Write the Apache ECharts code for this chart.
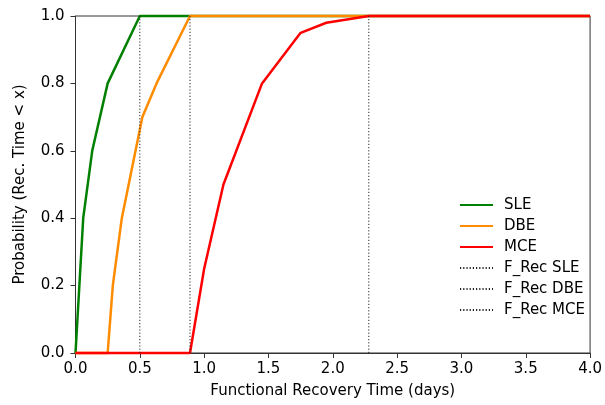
<!DOCTYPE html>
<html>
<head>
<meta charset="utf-8">
<script src="https://cdn.jsdelivr.net/npm/echarts@6/dist/echarts.min.js"></script>
<style>html,body{margin:0;padding:0;background:#fff}#c{width:605px;height:405px}</style>
</head>
<body>
<div id="c"></div>
<script>
// Data
const sleX = [0, 0.06, 0.13, 0.25, 0.5, 4.0];
const sleY = [0, 0.4, 0.6, 0.8, 1.0, 1.0];
const dbeX = [0, 0.25, 0.29, 0.36, 0.52, 0.63, 0.89, 4.0];
const dbeY = [0, 0, 0.2, 0.4, 0.7, 0.8, 1.0, 1.0];
const mceX = [0, 0.89, 1.0, 1.15, 1.45, 1.75, 1.95, 2.28, 4.0];
const mceY = [0, 0, 0.25, 0.5, 0.8, 0.95, 0.98, 1.0, 1.0];
const curveNames = ['SLE', 'DBE', 'MCE'];
const frecNames = ['F_Rec SLE', 'F_Rec DBE', 'F_Rec MCE'];
const frecTimes = [0.5, 0.89, 2.28];
const xTickLabels = ['0.0','0.5','1.0','1.5','2.0','2.5','3.0','3.5','4.0'];
const yTickLabels = ['0.0','0.2','0.4','0.6','0.8','1.0'];

const colors = ['#008000', '#ff8c00', '#ff0000'];
const FONT = 'DejaVu Sans';
const FS = 15;

function pairs(xs, ys) { return xs.map((x, i) => [x, ys[i]]); }
const curves = [pairs(sleX, sleY), pairs(dbeX, dbeY), pairs(mceX, mceY)];

const series = [];
curves.forEach((d, i) => {
  series.push({
    name: curveNames[i], type: 'line', data: d, symbol: 'none', clip: false,
    color: colors[i],
    lineStyle: { color: colors[i], width: 2.5 },
    z: 3 + i
  });
});
frecTimes.forEach((t, i) => {
  series.push({
    name: frecNames[i], type: 'line', data: [[t, 0], [t, 1]], symbol: 'none', clip: false,
    color: '#000',
    lineStyle: { color: '#222', width: 1, type: [1.2, 2] },
    z: 10
  });
});

const chart = echarts.init(document.getElementById('c'), null, { renderer: 'canvas' });
chart.setOption({
  animation: false,
  backgroundColor: '#fff',
  textStyle: { fontFamily: FONT },
  grid: { left: 75.5, right: 11, top: 16, bottom: 52, show: true, borderColor: '#333', borderWidth: 1, backgroundColor: 'transparent' },
  legend: {
    orient: 'vertical', left: 459, top: 197.5, padding: 0, itemWidth: 33, itemHeight: 15, itemGap: 6,
    data: curveNames.concat(frecNames),
    itemStyle: { opacity: 0 },
    textStyle: { fontFamily: FONT, fontSize: FS, color: '#000', padding: [0, 0, 0, 6] }
  },
  xAxis: {
    type: 'value', min: 0, max: 4, interval: 0.5,
    name: 'Functional Recovery Time (days)', nameLocation: 'middle', nameGap: 31,
    nameTextStyle: { fontFamily: FONT, fontSize: FS, color: '#000' },
    axisLine: { show: true, lineStyle: { color: '#333', width: 1 } },
    axisTick: { show: true, length: 5, lineStyle: { color: '#333' } },
    axisLabel: { margin: 9, fontFamily: FONT, fontSize: FS, color: '#000',
      formatter: (v) => xTickLabels[Math.round(v / 0.5)] },
    splitLine: { show: false }
  },
  yAxis: {
    type: 'value', min: 0, max: 1, interval: 0.2,
    name: 'Probability (Rec. Time < x)', nameLocation: 'middle', nameGap: 48,
    nameTextStyle: { fontFamily: FONT, fontSize: FS, color: '#000' },
    axisLine: { show: true, lineStyle: { color: '#333', width: 1 } },
    axisTick: { show: true, length: 5, lineStyle: { color: '#333' } },
    axisLabel: { margin: 11, fontFamily: FONT, fontSize: FS, color: '#000',
      formatter: (v) => yTickLabels[Math.round(v / 0.2)] },
    splitLine: { show: false }
  },
  series: series
});
</script>
</body>
</html>
